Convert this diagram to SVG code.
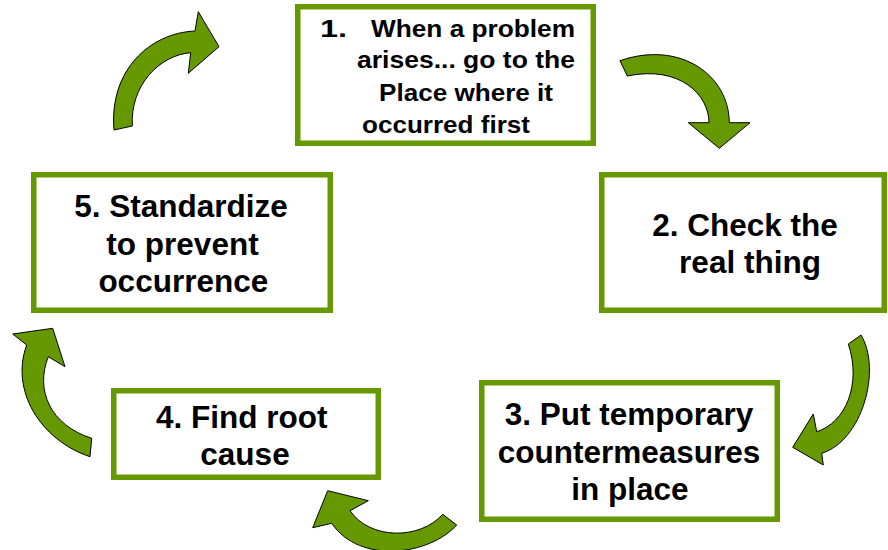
<svg xmlns="http://www.w3.org/2000/svg" width="888" height="550" viewBox="0 0 888 550">
<style>
.box{fill:#ffffff;stroke:#669900;stroke-width:5.5}
.arr{fill:#669900;stroke:#000000;stroke-width:1;stroke-linejoin:miter}
text{font-family:"Liberation Sans",Arial,sans-serif;font-weight:bold;fill:#000000}
.big{font-size:31.5px;text-anchor:middle}
.sm{font-size:23px}
</style>
<rect width="888" height="550" fill="#ffffff"/>
<g id="connectors">
<path class="arr" d="M114,130 C109,70 150,33 195,31 L198.3,11.7 L219,46.7 L188.3,73.3 L190.7,52.7 C160,55 130,85 132.3,126 Z"/>
<path class="arr" d="M620,60.7 C680,40 729,75 729.3,122.7 L750,122.7 L719.3,148.3 L688.3,122.7 L709,122.7 C709,95 680,65 627.3,76 Z"/>
<path class="arr" d="M861,335 C882,370 862,441 821.7,453.3 L823.3,465 L792.7,447.3 L813.3,414 L816.7,431.7 C845,423 862,385 848.3,344 Z"/>
<path class="arr" d="M456.7,525 C430,555 360,565 331.7,523.3 L312.7,527.7 L327.7,490.7 L368.3,500.7 L350,510.7 C370,540 420,540 442.7,514.3 Z"/>
<path class="arr" d="M90,456.7 C40,440 10,390 26.7,345 L12.7,334 L52.7,328.3 L65,366.7 L48.3,356.7 C35,390 50,425 91.7,438.3 Z"/>
</g>
<g id="step1">
<rect class="box" x="297.75" y="6.75" width="295.5" height="136.5"/>
<text class="sm" x="320" y="36.7" textLength="27" lengthAdjust="spacingAndGlyphs">1.</text>
<text class="sm" x="371" y="36.7" textLength="204" lengthAdjust="spacingAndGlyphs">When a problem</text>
<text class="sm" x="357" y="68" textLength="218" lengthAdjust="spacingAndGlyphs">arises... go to the</text>
<text class="sm" x="379" y="101" textLength="174" lengthAdjust="spacingAndGlyphs">Place where it</text>
<text class="sm" x="362" y="132.7" textLength="168" lengthAdjust="spacingAndGlyphs">occurred first</text>
</g>
<g id="step2">
<rect class="box" x="601.75" y="174.75" width="282.5" height="135.5"/>
<text class="big" x="745" y="236">2. Check the</text>
<text class="big" x="750" y="272.5">real thing</text>
</g>
<g id="step3">
<rect class="box" x="481.75" y="382.75" width="295.5" height="136.5"/>
<text class="big" x="629" y="425">3. Put temporary</text>
<text class="big" x="629" y="462.7">countermeasures</text>
<text class="big" x="630" y="500">in place</text>
</g>
<g id="step4">
<rect class="box" x="113.75" y="390.75" width="264.5" height="86.5"/>
<text class="big" x="241.7" y="428.3">4. Find root</text>
<text class="big" x="245" y="465">cause</text>
</g>
<g id="step5">
<rect class="box" x="33.75" y="174.75" width="296.5" height="135.5"/>
<text class="big" x="181" y="217">5. Standardize</text>
<text class="big" x="182.5" y="255">to prevent</text>
<text class="big" x="183.3" y="292">occurrence</text>
</g>
</svg>
